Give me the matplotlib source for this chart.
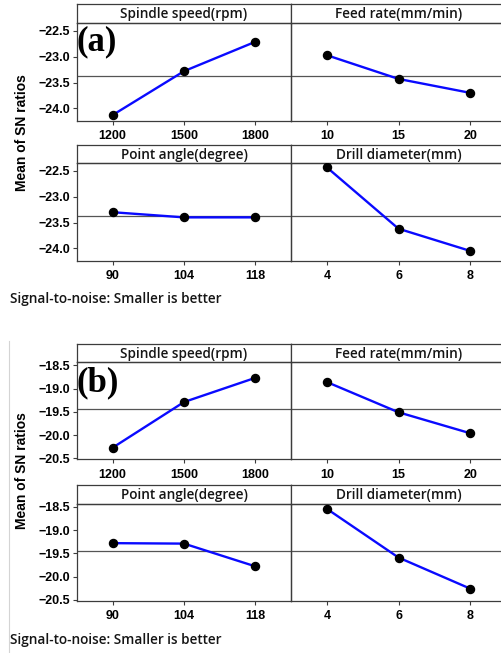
import numpy as np
import matplotlib
matplotlib.use("Agg")
import matplotlib.pyplot as plt
from matplotlib.lines import Line2D

# Factor names and levels
factors = ["Spindle speed(rpm)", "Feed rate(mm/min)", "Point angle(degree)", "Drill diameter(mm)"]
levels_speed = [1200, 1500, 1800]
levels_feed = [10, 15, 20]
levels_angle = [90, 104, 118]
levels_diam = [4, 6, 8]
levels = [levels_speed, levels_feed, levels_angle, levels_diam]

# Mean S/N ratios, response (a)
sn_a_speed = [-24.13, -23.28, -22.71]
sn_a_feed = [-22.97, -23.43, -23.70]
sn_a_angle = [-23.30, -23.40, -23.40]
sn_a_diam = [-22.43, -23.62, -24.05]

# Mean S/N ratios, response (b)
sn_b_speed = [-20.27, -19.29, -18.77]
sn_b_feed = [-18.86, -19.51, -19.96]
sn_b_angle = [-19.28, -19.29, -19.78]
sn_b_diam = [-18.54, -19.59, -20.26]

yticks_a = [-22.5, -23.0, -23.5, -24.0]
yticks_b = [-18.5, -19.0, -19.5, -20.0, -20.5]

W, H = 502, 653
fig = plt.figure(figsize=(W / 100, H / 100), dpi=100)
fig.patch.set_facecolor("white")

SPINE = "#3c3c3c"
TICKFONT = dict(family="Liberation Sans", weight="bold", size=9)
LABELFONT = dict(family="Open Sans", weight="semibold", color="#151515")


def fx(px):
    return px / W


def fy(py):
    return 1 - py / H


def add_box(x0, x1, y0, y1):
    # y0 = top pixel, y1 = bottom pixel
    return fig.add_axes([fx(x0), fy(y1), fx(x1) - fx(x0), fy(y0) - fy(y1)])


def draw_group(series, yticks, ylim, rows, tag, tag_y, footer_y, ylabel_y):
    col_x = [(77, 291), (291, 506)]
    ref = np.mean(np.concatenate([np.asarray(s) for s in series]))
    for i in range(4):
        r, c = divmod(i, 2)
        strip_top, strip_bot, plot_bot = rows[r]
        x0, x1 = col_x[c]
        lv = np.asarray(levels[i], dtype=float)
        step = lv[1] - lv[0]

        # factor name strip
        sax = add_box(x0, x1, strip_top, strip_bot)
        sax.set_xticks([])
        sax.set_yticks([])
        for sp in sax.spines.values():
            sp.set_color(SPINE)
            sp.set_linewidth(0.9)
        sax.text(0.5, 0.45, factors[i], ha="center", va="center",
                 size=9.8, transform=sax.transAxes, **LABELFONT)

        ax = add_box(x0, x1, strip_bot, plot_bot)
        ax.set_facecolor("none")
        ax.axhline(ref, color="#555555", lw=0.9, zorder=1)
        ax.plot(lv, series[i], color="#0a0aff", lw=1.7, zorder=2)
        ax.plot(lv, series[i], "o", color="black", ms=5.8, zorder=3)
        ax.set_xlim(lv[0] - step / 2, lv[-1] + step / 2)
        ax.set_ylim(*ylim)
        ax.set_xticks(lv)
        ax.set_xticklabels([str(v) for v in levels[i]], fontdict=TICKFONT)
        ax.set_yticks(yticks)
        if c == 0:
            ax.set_yticklabels([f"{v:.1f}".replace("-", "\u2212") for v in yticks],
                               fontdict=TICKFONT)
            ax.tick_params(axis="y", length=3, pad=2, color=SPINE, direction="out")
        else:
            ax.tick_params(axis="y", length=0, labelleft=False)
        ax.tick_params(axis="x", length=3, pad=4, color=SPINE, direction="out")
        for sp in ax.spines.values():
            sp.set_color(SPINE)
            sp.set_linewidth(0.9)

    # panel tag
    fig.text(fx(77), fy(tag_y), tag, ha="left", va="center",
             family="Liberation Serif", weight="bold", size=25)
    # y-axis label
    fig.text(fx(22), fy(ylabel_y), "Mean of SN ratios", rotation=90,
             ha="center", va="center", family="Liberation Sans",
             weight="bold", size=10)
    # footer
    fig.text(fx(10), fy(footer_y), "Signal-to-noise: Smaller is better",
             ha="left", va="center", size=9.8, **LABELFONT)


draw_group([sn_a_speed, sn_a_feed, sn_a_angle, sn_a_diam], yticks_a,
           (-24.24, -22.34), [(4, 22.7, 120.7), (144.7, 162.7, 260.7)],
           "(a)", 42, 299, 133)
draw_group([sn_b_speed, sn_b_feed, sn_b_angle, sn_b_diam], yticks_b,
           (-20.52, -18.43), [(344, 362, 459.3), (485.3, 503.7, 600.7)],
           "(b)", 383, 640, 471)

# thin frame line at the left of the lower figure
fig.add_artist(Line2D([fx(9), fx(9)], [fy(341), fy(653)], color="#d4d4d4", lw=0.8))

fig.savefig("out.png", dpi=100, facecolor="white")
